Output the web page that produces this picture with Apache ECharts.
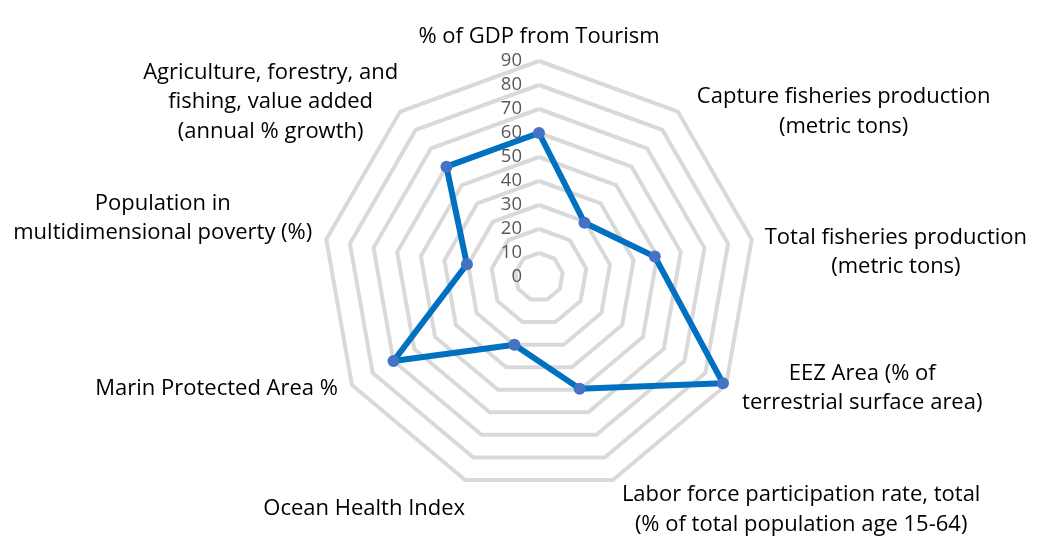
<!DOCTYPE html>
<html><head><meta charset="utf-8">
<script src="https://cdn.jsdelivr.net/npm/echarts@6/dist/echarts.min.js"></script>
<style>html,body{margin:0;padding:0;background:#fff}#c{width:1039px;height:550px}</style>
</head><body><div id="c"></div>
<script>
// categories in clockwise order starting from the top
const categories = [
  '% of GDP from Tourism',
  'Capture fisheries production\n(metric tons)',
  'Total fisheries production\n(metric tons)',
  'EEZ Area (% of\nterrestrial surface area)',
  'Labor force participation rate, total\n(% of total population age 15-64)',
  'Ocean Health Index',
  'Marin Protected Area %',
  'Population in\nmultidimensional poverty (%)',
  'Agriculture, forestry, and\nfishing, value added\n(annual % growth)'
];
const values = [60, 29.5, 49, 88.5, 49.5, 30, 70, 30.5, 60];
const tickLabels = ['0','10','20','30','40','50','60','70','80','90'];
const axisMax = 90;

// per-category label padding [top,right,bottom,left] (clockwise order)
const namePad = [
  [0,0,10,0],
  [0,0,0,19],
  [25,0,0,13],
  [6,0,0,16],
  [60,0,0,9],
  [58,0,0,0],
  [8,14,0,0],
  [0,14,43,0],
  [0,2,19,0]
];

// ECharts draws indicators counter-clockwise: reorder
const order = [0].concat(categories.map((_, i) => i).slice(1).reverse());
const indicator = order.map((i, k) => {
  const o = { name: categories[i], max: axisMax, min: 0, nameGap: 0, nameTextStyle: { padding: namePad[i] } };
  o.axisLabel = { show: k === 0 };
  return o;
});
const seriesData = order.map(i => values[i]);

const chart = echarts.init(document.getElementById('c'));
chart.setOption({
  animation: false,
  radar: {
    center: [539, 277],
    radius: 216,
    splitNumber: 9,
    shape: 'polygon',
    nameGap: 0,
    axisName: {
      color: '#000',
      fontFamily: 'Open Sans',
      fontSize: 22,
      formatter: function (name) {
        return name.split('\n').map(s => '{c|' + s + '}').join('\n');
      },
      rich: { c: { align: 'center', fontFamily: 'Open Sans', fontSize: 22, color: '#000', lineHeight: 29.5 } }
    },
    axisLine: { show: false },
    axisTick: { show: false },
    splitArea: { show: false },
    splitLine: { lineStyle: { color: '#d9d9d9', width: 4 } },
    axisLabel: {
      show: false,
      color: '#595959',
      fontFamily: 'Open Sans',
      fontSize: 18.5,
      margin: 17,
      formatter: function (v) { return tickLabels[Math.round(v / 10)]; }
    },
    indicator: indicator
  },
  series: [{
    type: 'radar',
    symbol: 'circle',
    symbolSize: 12,
    lineStyle: { color: '#0070c0', width: 6 },
    itemStyle: { color: '#4472c4' },
    data: [{ value: seriesData }]
  }]
});
</script></body></html>
